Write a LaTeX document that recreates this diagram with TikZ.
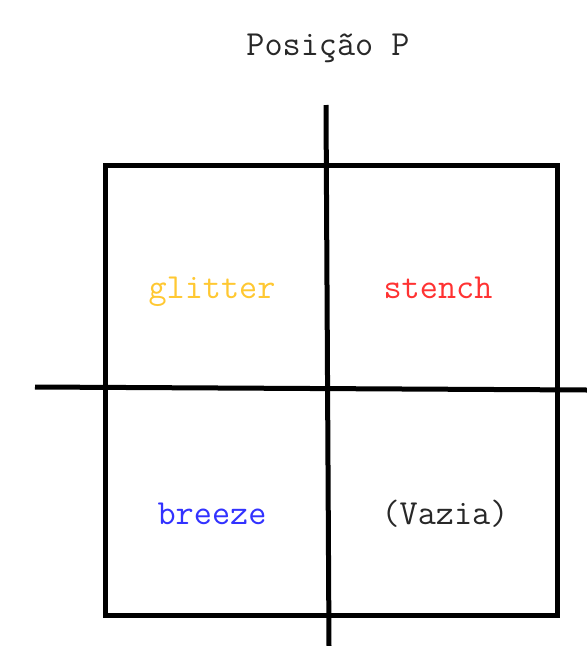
\documentclass[tikz,border=0pt]{standalone}
\usepackage{fontspec}
\definecolor{glit}{RGB}{255,200,50}
\definecolor{sten}{RGB}{255,50,50}
\definecolor{bree}{RGB}{50,50,255}
\definecolor{vaz}{RGB}{40,40,40}
\begin{document}
\begin{tikzpicture}[x=1pt,y=-1pt,
  lbl/.style={font=\ttfamily\fontsize{35.2}{35.2}\selectfont, inner sep=0pt, anchor=base},
  thick line/.style={line width=5pt, black}]
\useasboundingbox (0,0) rectangle (587,646);
\node[lbl, text=vaz] (title) at (328,55) {Posição P};
\draw[thick line] (105,165) rectangle (557,615);
\coordinate (vtop) at (326,105);
\coordinate (vbot) at (329,646);
\coordinate (hl) at (35,387);
\coordinate (hr) at (587,390);
\draw[thick line] (vtop) -- (vbot);
\draw[thick line] (hl) -- (hr);
\node[lbl, text=glit] (glitter) at (212,298) {glitter};
\node[lbl, text=sten] (stench) at (438,298) {stench};
\node[lbl, text=bree] (breeze) at (212,524) {breeze};
\node[lbl, text=vaz] (vazia) at (445,524) {(Vazia)};
\end{tikzpicture}
\end{document}
